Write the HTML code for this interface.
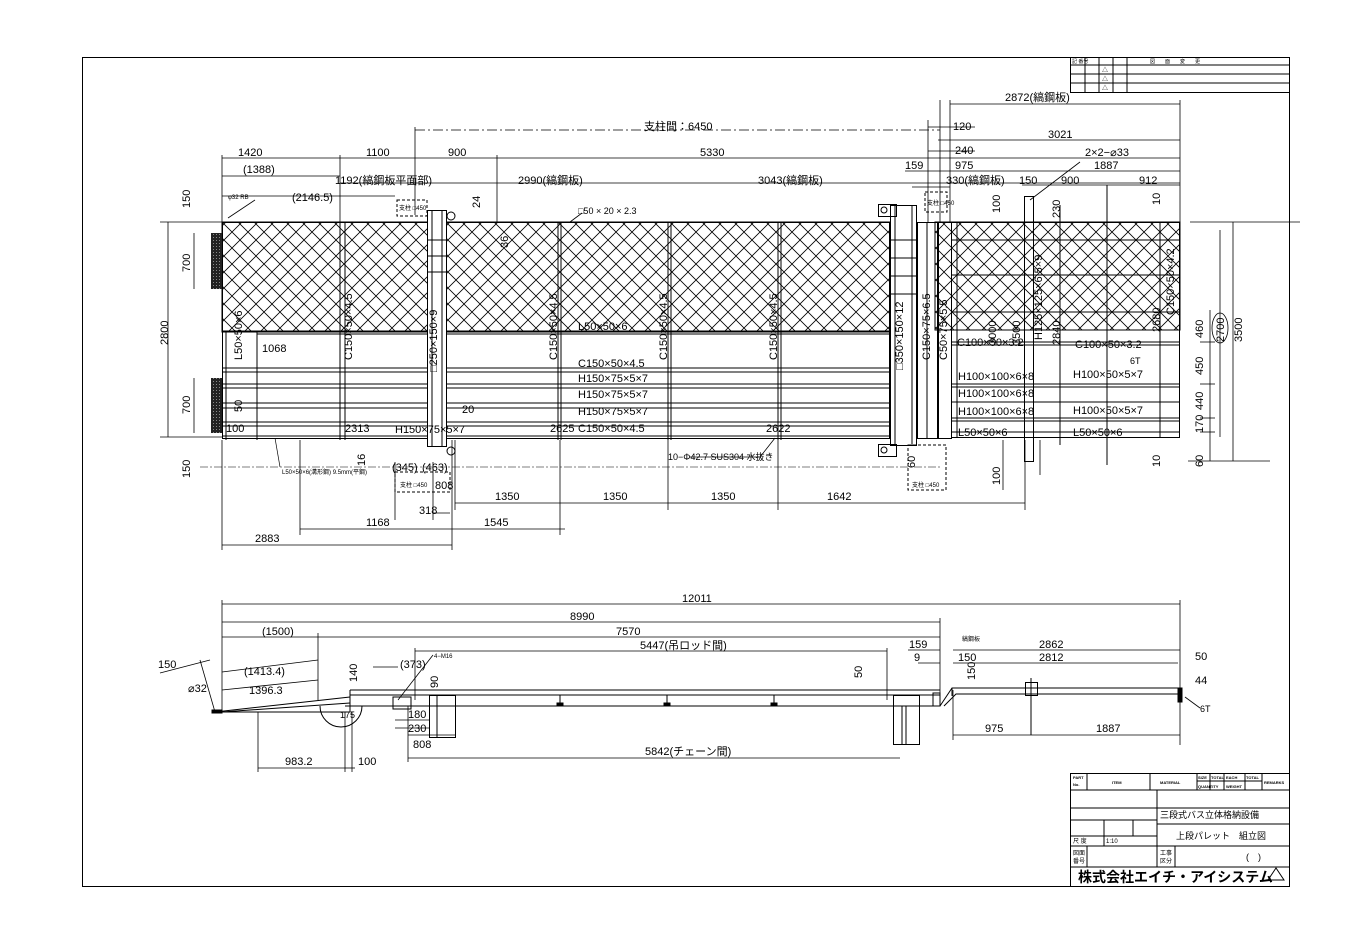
<!DOCTYPE html>
<html><head><meta charset="utf-8"><style>
html,body{margin:0;padding:0;background:#fff;}
svg{display:block;}
text{font-family:"Liberation Sans Narrow","Liberation Sans","Noto Sans CJK JP",sans-serif;fill:#000;font-size:11px;}
.s{font-size:6px;}
.m{font-size:9px;}
.t4{font-size:4px;font-weight:bold;}
.t5{font-size:5px;}
.t6{font-size:6px;}
.big{font-size:14px;font-weight:bold;}
</style></head><body>
<svg width="1348" height="952" viewBox="0 0 1348 952" xmlns="http://www.w3.org/2000/svg">
<defs>
<pattern id="h" width="16" height="16" patternUnits="userSpaceOnUse">
<path d="M0 0L16 16M16 0L0 16" stroke="#000" stroke-width="0.8" fill="none"/>
</pattern>
<pattern id="blk" width="3" height="3" patternUnits="userSpaceOnUse">
<rect width="3" height="3" fill="#222"/><rect width="1" height="1" fill="#888"/>
</pattern>
</defs>
<g fill="none" stroke="#000" stroke-width="1">
<rect x="82.5" y="57.5" width="1207" height="829"/>
<rect x="1070.5" y="57.5" width="219" height="35"/>
<line x1="1070" y1="65" x2="1289" y2="65"/><line x1="1070" y1="74" x2="1289" y2="74"/><line x1="1070" y1="83" x2="1289" y2="83"/>
<line x1="1085" y1="57" x2="1085" y2="92"/><line x1="1099" y1="57" x2="1099" y2="92"/><line x1="1113" y1="57" x2="1113" y2="92"/><line x1="1127" y1="57" x2="1127" y2="92"/>
<rect x="1070.5" y="773.5" width="219" height="113"/>
<line x1="1070" y1="790" x2="1289" y2="790"/>
<line x1="1070" y1="808" x2="1289" y2="808"/>
<line x1="1070" y1="820" x2="1157" y2="820"/>
<line x1="1157" y1="824" x2="1289" y2="824"/>
<line x1="1070" y1="836" x2="1157" y2="836"/>
<line x1="1070" y1="846" x2="1289" y2="846"/>
<line x1="1070" y1="867" x2="1289" y2="867"/>
<line x1="1157" y1="790" x2="1157" y2="867"/>
<line x1="1087" y1="773" x2="1087" y2="790"/><line x1="1150" y1="773" x2="1150" y2="790"/><line x1="1197" y1="773" x2="1197" y2="790"/>
<line x1="1210" y1="773" x2="1210" y2="790"/><line x1="1224" y1="773" x2="1224" y2="790"/><line x1="1245" y1="773" x2="1245" y2="790"/><line x1="1262" y1="773" x2="1262" y2="790"/>
<line x1="1197" y1="781" x2="1262" y2="781"/>
<line x1="1104" y1="820" x2="1104" y2="846"/><line x1="1133" y1="820" x2="1133" y2="836"/><line x1="1087" y1="846" x2="1087" y2="867"/><line x1="1175" y1="846" x2="1175" y2="867"/>
<path d="M1268 880L1276 868L1284 880Z"/>
</g>
<g stroke="#000" fill="none" stroke-width="1">
<rect x="222" y="222" width="668" height="110" fill="url(#h)"/>
<rect x="935" y="222" width="245" height="108" fill="url(#h)"/>
<rect x="211" y="233" width="11" height="56" fill="url(#blk)" stroke="none"/>
<rect x="211" y="378" width="11" height="55" fill="url(#blk)" stroke="none"/>
<rect x="222.5" y="222.5" width="667" height="216"/>
<line x1="222" y1="331" x2="890" y2="331"/><line x1="257" y1="334" x2="890" y2="334"/>
<line x1="222" y1="368" x2="890" y2="368"/><line x1="222" y1="372" x2="890" y2="372"/>
<line x1="222" y1="384" x2="890" y2="384"/><line x1="222" y1="388" x2="890" y2="388"/>
<line x1="222" y1="403" x2="890" y2="403"/><line x1="222" y1="408" x2="890" y2="408"/>
<line x1="222" y1="422" x2="890" y2="422"/><line x1="222" y1="426" x2="890" y2="426"/>
<line x1="222" y1="436" x2="890" y2="436"/>
<line x1="257" y1="331" x2="257" y2="440"/><line x1="226" y1="331" x2="226" y2="440"/>
<line x1="340" y1="222" x2="340" y2="440"/><line x1="345" y1="222" x2="345" y2="440"/>
<line x1="558" y1="222" x2="558" y2="440"/><line x1="561" y1="222" x2="561" y2="440"/>
<line x1="668" y1="222" x2="668" y2="440"/><line x1="671" y1="222" x2="671" y2="440"/>
<line x1="778" y1="222" x2="778" y2="440"/><line x1="781" y1="222" x2="781" y2="440"/>
<rect x="427.5" y="210.5" width="19" height="236" fill="#fff"/>
<line x1="432" y1="210" x2="432" y2="446"/><line x1="442" y1="210" x2="442" y2="446"/>
<line x1="427" y1="240" x2="446" y2="240"/><line x1="427" y1="256" x2="446" y2="256"/><line x1="427" y1="272" x2="446" y2="272"/>
<rect x="890.5" y="205.5" width="26" height="240" fill="#fff"/>
<line x1="895" y1="205" x2="895" y2="445"/><line x1="912" y1="205" x2="912" y2="445"/>
<line x1="890" y1="240" x2="917" y2="240"/><line x1="890" y1="258" x2="917" y2="258"/><line x1="890" y1="276" x2="917" y2="276"/><line x1="890" y1="294" x2="917" y2="294"/>
<rect x="917.5" y="222.5" width="20" height="216"/>
<line x1="927" y1="222" x2="927" y2="438"/>
<rect x="938.5" y="222.5" width="13" height="216"/>
<rect x="951.5" y="222.5" width="228" height="215"/>
<line x1="951" y1="240" x2="1180" y2="240"/><line x1="951" y1="275" x2="1180" y2="275"/><line x1="951" y1="312" x2="1180" y2="312"/><line x1="951" y1="330" x2="1180" y2="330"/>
<line x1="951" y1="342" x2="1180" y2="342"/><line x1="951" y1="345" x2="1180" y2="345"/>
<line x1="951" y1="384" x2="1180" y2="384"/><line x1="951" y1="387" x2="1180" y2="387"/>
<line x1="951" y1="402" x2="1180" y2="402"/><line x1="951" y1="418" x2="1180" y2="418"/><line x1="951" y1="421" x2="1180" y2="421"/>
<line x1="951" y1="432" x2="1180" y2="432"/>
<line x1="957" y1="222" x2="957" y2="438"/>
<rect x="1024.5" y="196.5" width="9" height="265"/>
<line x1="1060" y1="205" x2="1060" y2="445"/><line x1="1107" y1="185" x2="1107" y2="465"/><line x1="1160" y1="222" x2="1160" y2="438"/>
<rect x="878.5" y="204.5" width="18" height="12"/><rect x="878.5" y="444.5" width="18" height="12"/>
<circle cx="884" cy="210" r="3"/><circle cx="884" cy="450" r="3"/>
<circle cx="451" cy="216" r="4"/><circle cx="451" cy="451" r="4"/>
<rect x="397" y="200" width="30" height="16" stroke-dasharray="3 2"/>
<rect x="925" y="192" width="22" height="20" stroke-dasharray="3 2"/>
<rect x="395" y="472" width="55" height="20" stroke-dasharray="3 2"/>
<rect x="908" y="445" width="38" height="45" stroke-dasharray="3 2"/>
<line x1="200" y1="467" x2="940" y2="467" stroke-dasharray="8 2 2 2" stroke-width="0.6"/>
<line x1="275" y1="438" x2="280" y2="467" stroke-width="0.7"/>
</g>
<g stroke="#000" stroke-width="0.8" fill="none">
<line x1="415" y1="130" x2="940" y2="130" stroke-dasharray="10 3 2 3"/>
<line x1="222" y1="158" x2="1180" y2="158"/>
<line x1="222" y1="176" x2="340" y2="176"/>
<line x1="340" y1="183" x2="1180" y2="183"/>
<line x1="222" y1="196" x2="395" y2="196"/>
<line x1="950" y1="104" x2="1180" y2="104"/>
<line x1="938" y1="140" x2="1180" y2="140"/>
<line x1="928" y1="127" x2="975" y2="127"/>
<line x1="928" y1="151" x2="975" y2="151"/>
<line x1="905" y1="171" x2="1180" y2="171"/>
<line x1="912" y1="187" x2="950" y2="187"/>
<line x1="1022" y1="185" x2="1180" y2="185"/>
<line x1="222" y1="155" x2="222" y2="222"/><line x1="340" y1="155" x2="340" y2="222"/>
<line x1="415" y1="127" x2="415" y2="215"/><line x1="497" y1="155" x2="497" y2="222"/>
<line x1="940" y1="100" x2="940" y2="222"/><line x1="950" y1="100" x2="950" y2="222"/><line x1="1180" y1="100" x2="1180" y2="222"/>
<line x1="928" y1="120" x2="928" y2="222"/>
<line x1="168" y1="222" x2="168" y2="437"/><line x1="194" y1="233" x2="194" y2="289"/><line x1="194" y1="378" x2="194" y2="433"/>
<line x1="160" y1="222" x2="222" y2="222"/><line x1="160" y1="437" x2="222" y2="437"/>
<line x1="1190" y1="222" x2="1300" y2="222"/><line x1="1188" y1="461" x2="1270" y2="461"/>
<line x1="1233" y1="222" x2="1233" y2="461"/><line x1="1220" y1="230" x2="1220" y2="437"/>
<line x1="1210" y1="310" x2="1210" y2="461"/>
<line x1="1200" y1="342" x2="1215" y2="342"/><line x1="1200" y1="384" x2="1215" y2="384"/><line x1="1200" y1="418" x2="1215" y2="418"/><line x1="1200" y1="432" x2="1215" y2="432"/>
<line x1="455" y1="503" x2="1025" y2="503"/>
<line x1="300" y1="529" x2="565" y2="529"/>
<line x1="222" y1="545" x2="452" y2="545"/>
<line x1="433" y1="513" x2="450" y2="513"/>
<line x1="222" y1="440" x2="222" y2="550"/><line x1="300" y1="440" x2="300" y2="535"/><line x1="452" y1="440" x2="452" y2="550"/>
<line x1="455" y1="440" x2="455" y2="510"/><line x1="560" y1="440" x2="560" y2="535"/><line x1="668" y1="440" x2="668" y2="510"/><line x1="778" y1="440" x2="778" y2="510"/><line x1="1025" y1="440" x2="1025" y2="510"/>
<line x1="395" y1="462" x2="395" y2="520"/><line x1="433" y1="462" x2="433" y2="520"/>
<line x1="1003" y1="440" x2="1003" y2="490"/><line x1="1040" y1="440" x2="1040" y2="475"/>
<line x1="228" y1="218" x2="255" y2="200"/>
<line x1="1030" y1="200" x2="1080" y2="162"/>
<line x1="690" y1="457" x2="760" y2="457"/><line x1="760" y1="457" x2="775" y2="438"/>
<line x1="582" y1="213" x2="570" y2="222"/>
</g>
<g>
<text x="644" y="130">支柱間：6450</text>
<text x="238" y="156">1420</text><text x="366" y="156">1100</text><text x="448" y="156">900</text><text x="700" y="156">5330</text>
<text x="243" y="173">(1388)</text>
<text x="335" y="184">1192(縞鋼板平面部)</text>
<text x="518" y="184">2990(縞鋼板)</text><text x="758" y="184">3043(縞鋼板)</text>
<text x="292" y="201">(2146.5)</text>
<text x="228" y="199" class="s">φ32  RB</text>
<text x="578" y="214" class="m">□50 × 20 × 2.3</text>
<text x="1005" y="101">2872(縞鋼板)</text>
<text x="953" y="130">120</text><text x="1048" y="138">3021</text>
<text x="955" y="154">240</text><text x="1085" y="156">2×2−⌀33</text>
<text x="905" y="169">159</text><text x="955" y="169">975</text><text x="1094" y="169">1887</text>
<text x="946" y="184">330(縞鋼板)</text><text x="1019" y="184">150</text><text x="1061" y="184">900</text><text x="1139" y="184">912</text>
<text x="1075" y="348">C100×50×3.2</text><text x="957" y="346">C100×50×3.2</text>
<text x="958" y="380">H100×100×6×8</text><text x="958" y="397">H100×100×6×8</text><text x="958" y="415">H100×100×6×8</text>
<text x="1073" y="378">H100×50×5×7</text><text x="1073" y="414">H100×50×5×7</text>
<text x="958" y="436">L50×50×6</text><text x="1073" y="436">L50×50×6</text>
<text x="1130" y="364" class="m">6T</text>
<text x="578" y="330">L50×50×6</text>
<text x="578" y="367">C150×50×4.5</text><text x="578" y="382">H150×75×5×7</text><text x="578" y="398">H150×75×5×7</text><text x="578" y="415">H150×75×5×7</text><text x="578" y="432">C150×50×4.5</text>
<text x="395" y="433">H150×75×5×7</text>
<text x="345" y="432">2313</text><text x="550" y="432">2625</text><text x="766" y="432">2622</text>
<text x="262" y="352">1068</text><text x="462" y="413">20</text>
<text x="226" y="432">100</text>
<text x="668" y="460" class="m">10−Φ42.7 SUS304 水抜き</text>
<text x="392" y="471">(345)</text><text x="422" y="471">(463)</text>
<text x="435" y="489">808</text><text x="419" y="514">318</text>
<text x="495" y="500">1350</text><text x="603" y="500">1350</text><text x="711" y="500">1350</text><text x="827" y="500">1642</text>
<text x="366" y="526">1168</text><text x="484" y="526">1545</text><text x="255" y="542">2883</text>
<text x="400" y="487" class="s">支柱 □450</text><text x="912" y="487" class="s">支柱 □450</text>
<text x="399" y="210" class="s">支柱 □450</text><text x="927" y="205" class="s">支柱 □450</text>
<text x="282" y="474" class="s">L50×50×6(溝形鋼) 9.5mm(平鋼)</text>
</g>
<g>
<text transform="translate(190,208) rotate(-90)">150</text>
<text transform="translate(190,272) rotate(-90)">700</text>
<text transform="translate(168,345) rotate(-90)">2800</text>
<text transform="translate(190,414) rotate(-90)">700</text>
<text transform="translate(190,478) rotate(-90)">150</text>
<text transform="translate(242,360) rotate(-90)">L50×50×6</text>
<text transform="translate(242,412) rotate(-90)">50</text>
<text transform="translate(352,360) rotate(-90)">C150×50×4.5</text>
<text transform="translate(437,372) rotate(-90)">□250×150×9</text>
<text transform="translate(557,360) rotate(-90)">C150×50×4.5</text>
<text transform="translate(667,360) rotate(-90)">C150×50×4.5</text>
<text transform="translate(777,360) rotate(-90)">C150×50×4.5</text>
<text transform="translate(903,370) rotate(-90)">□350×150×12</text>
<text transform="translate(930,360) rotate(-90)">C150×75×6.5</text>
<text transform="translate(947,360) rotate(-90)">C50×75×5.5</text>
<text transform="translate(1042,340) rotate(-90)">H125×125×6.5×9</text>
<text transform="translate(1174,315) rotate(-90)">C150×50×4.2</text>
<text transform="translate(1000,213) rotate(-90)">100</text><text transform="translate(1060,218) rotate(-90)">230</text>
<text transform="translate(1000,485) rotate(-90)">100</text>
<text transform="translate(1160,205) rotate(-90)">10</text><text transform="translate(1160,467) rotate(-90)">10</text>
<text transform="translate(996,345) rotate(-90)">3000</text><text transform="translate(1020,345) rotate(-90)">3500</text>
<text transform="translate(1060,345) rotate(-90)">2840</text><text transform="translate(1160,332) rotate(-90)">2680</text>
<text transform="translate(1203,338) rotate(-90)">460</text><text transform="translate(1203,375) rotate(-90)">450</text>
<text transform="translate(1203,410) rotate(-90)">440</text><text transform="translate(1203,433) rotate(-90)">170</text>
<text transform="translate(1203,467) rotate(-90)">60</text>
<text transform="translate(1224,342) rotate(-90)">2700</text><text transform="translate(1242,342) rotate(-90)">3500</text>
<text transform="translate(480,208) rotate(-90)">24</text><text transform="translate(508,248) rotate(-90)">36</text>
<text transform="translate(365,466) rotate(-90)">16</text><text transform="translate(915,468) rotate(-90)">60</text>
</g>
<ellipse cx="1220" cy="328" rx="8" ry="15" fill="none" stroke="#000" stroke-width="0.8"/>
<g stroke="#000" fill="none" stroke-width="1">
<line x1="215" y1="712" x2="350" y2="697"/><line x1="222" y1="712" x2="350" y2="703"/><line x1="215" y1="712" x2="350" y2="712"/>
<rect x="212" y="710" width="10" height="3" fill="#000"/>
<line x1="350" y1="695" x2="940" y2="695"/><line x1="350" y1="690" x2="940" y2="690"/><line x1="345" y1="706" x2="940" y2="706"/>
<line x1="350" y1="690" x2="350" y2="712"/>
<path d="M320 706A20 20 0 0 0 362 706"/>
<rect x="429.5" y="695.5" width="26" height="42"/><line x1="437" y1="695" x2="437" y2="737"/>
<rect x="393" y="697" width="18" height="12"/>
<rect x="893.5" y="695.5" width="26" height="49"/><line x1="902" y1="706" x2="902" y2="745"/><line x1="906" y1="706" x2="906" y2="745"/>
<line x1="560" y1="695" x2="560" y2="706"/><line x1="667" y1="695" x2="667" y2="706"/><line x1="774" y1="695" x2="774" y2="706"/>
<rect x="557" y="703" width="6" height="3" fill="#000"/><rect x="664" y="703" width="6" height="3" fill="#000"/><rect x="771" y="703" width="6" height="3" fill="#000"/>
<rect x="933" y="693" width="7" height="13"/>
<path d="M940 706L952 688L1180 688"/><path d="M944 706L956 694L1180 694"/>
<line x1="952" y1="688" x2="952" y2="696"/>
<rect x="1025.5" y="682.5" width="12" height="13"/><line x1="1031" y1="678" x2="1031" y2="735"/>
<rect x="1178" y="688" width="4" height="14" fill="#000"/>
</g>
<g stroke="#000" stroke-width="0.8" fill="none">
<line x1="222" y1="604" x2="1180" y2="604"/><line x1="222" y1="622" x2="940" y2="622"/>
<line x1="222" y1="637" x2="318" y2="637"/><line x1="318" y1="637" x2="940" y2="637"/>
<line x1="415" y1="651" x2="887" y2="651"/><line x1="953" y1="650" x2="1180" y2="650"/><line x1="908" y1="650" x2="940" y2="650"/>
<line x1="953" y1="663" x2="1178" y2="663"/><line x1="918" y1="663" x2="940" y2="663"/>
<line x1="222" y1="600" x2="222" y2="712"/><line x1="1180" y1="600" x2="1180" y2="745"/><line x1="940" y1="618" x2="940" y2="706"/><line x1="318" y1="633" x2="318" y2="700"/>
<line x1="415" y1="648" x2="415" y2="700"/><line x1="887" y1="648" x2="887" y2="700"/>
<line x1="222" y1="672" x2="318" y2="660"/><line x1="222" y1="690" x2="318" y2="680"/>
<line x1="160" y1="673" x2="210" y2="660"/><line x1="200" y1="660" x2="215" y2="712"/>
<line x1="408" y1="758" x2="900" y2="758"/><line x1="258" y1="768" x2="345" y2="768"/><line x1="345" y1="768" x2="355" y2="768"/>
<line x1="258" y1="712" x2="258" y2="772"/><line x1="345" y1="712" x2="345" y2="772"/><line x1="352" y1="712" x2="352" y2="772"/>
<line x1="953" y1="735" x2="1180" y2="735"/><line x1="953" y1="690" x2="953" y2="740"/>
<line x1="408" y1="735" x2="455" y2="735"/><line x1="395" y1="720" x2="430" y2="720"/><line x1="395" y1="728" x2="430" y2="728"/>
<line x1="408" y1="706" x2="408" y2="762"/>
<line x1="373" y1="667" x2="398" y2="667"/><line x1="398" y1="700" x2="433" y2="655"/>
<line x1="1185" y1="697" x2="1200" y2="708"/>
</g>
<g>
<text x="682" y="602">12011</text><text x="570" y="620">8990</text>
<text x="262" y="635">(1500)</text><text x="616" y="635">7570</text>
<text x="640" y="649">5447(吊ロッド間)</text>
<text x="909" y="648">159</text><text x="914" y="661">9</text>
<text x="1039" y="648">2862</text><text x="1039" y="661">2812</text>
<text x="958" y="661">150</text>
<text x="1195" y="660">50</text><text x="1195" y="684">44</text><text x="1200" y="712" class="m">6T</text>
<text x="962" y="641" class="s">縞鋼板</text>
<text x="158" y="668">150</text><text x="188" y="692">⌀32</text>
<text x="244" y="675">(1413.4)</text><text x="249" y="694">1396.3</text>
<text x="400" y="668">(373)</text><text x="434" y="658" class="s">4−M16</text>
<text x="408" y="718">180</text><text x="408" y="732">230</text><text x="413" y="748">808</text>
<text x="645" y="755">5842(チェーン間)</text>
<text x="285" y="765">983.2</text><text x="358" y="765">100</text>
<text x="985" y="732">975</text><text x="1096" y="732">1887</text>
<text x="340" y="718" class="m">175</text>
<text transform="translate(357,682) rotate(-90)">140</text>
<text transform="translate(438,688) rotate(-90)">90</text>
<text transform="translate(862,678) rotate(-90)">50</text>
<text transform="translate(975,680) rotate(-90)">150</text>
</g>
<g>
<text class="t4" x="1073" y="779">PART</text><text class="t4" x="1073" y="786">No.</text><text class="t4" x="1112" y="784">ITEM</text><text class="t4" x="1160" y="784">MATERIAL</text>
<text class="t4" x="1198" y="779">SIZE</text><text class="t4" x="1211" y="779">TOTAL</text><text class="t4" x="1226" y="779">EACH</text><text class="t4" x="1246" y="779">TOTAL</text><text class="t4" x="1264" y="784">REMARKS</text>
<text class="t4" x="1198" y="788">QUANTITY</text><text class="t4" x="1226" y="788">WEIGHT</text>
<text class="t6" x="1073" y="843">尺 度</text><text class="t6" x="1106" y="843">1:10</text>
<text class="t6" x="1073" y="855">図面</text><text class="t6" x="1073" y="863">番号</text><text class="t6" x="1160" y="855">工事</text><text class="t6" x="1160" y="863">区分</text>
<text class="t5" x="1072" y="63">記 番号</text><text class="t5" x="1150" y="63">図　　面　　変　　更</text>
<text class="t6" x="1102" y="72">△</text><text class="t6" x="1102" y="81">△</text><text class="t6" x="1102" y="90">△</text>
</g>
<text x="1160" y="818" class="m">三段式バス立体格納設備</text>
<text x="1176" y="839" class="m">上段パレット　組立図</text>
<text x="1246" y="860" class="m">(　)</text>
<text x="1078" y="882" class="big">株式会社エイチ・アイシステム</text>
</svg>
</body></html>
